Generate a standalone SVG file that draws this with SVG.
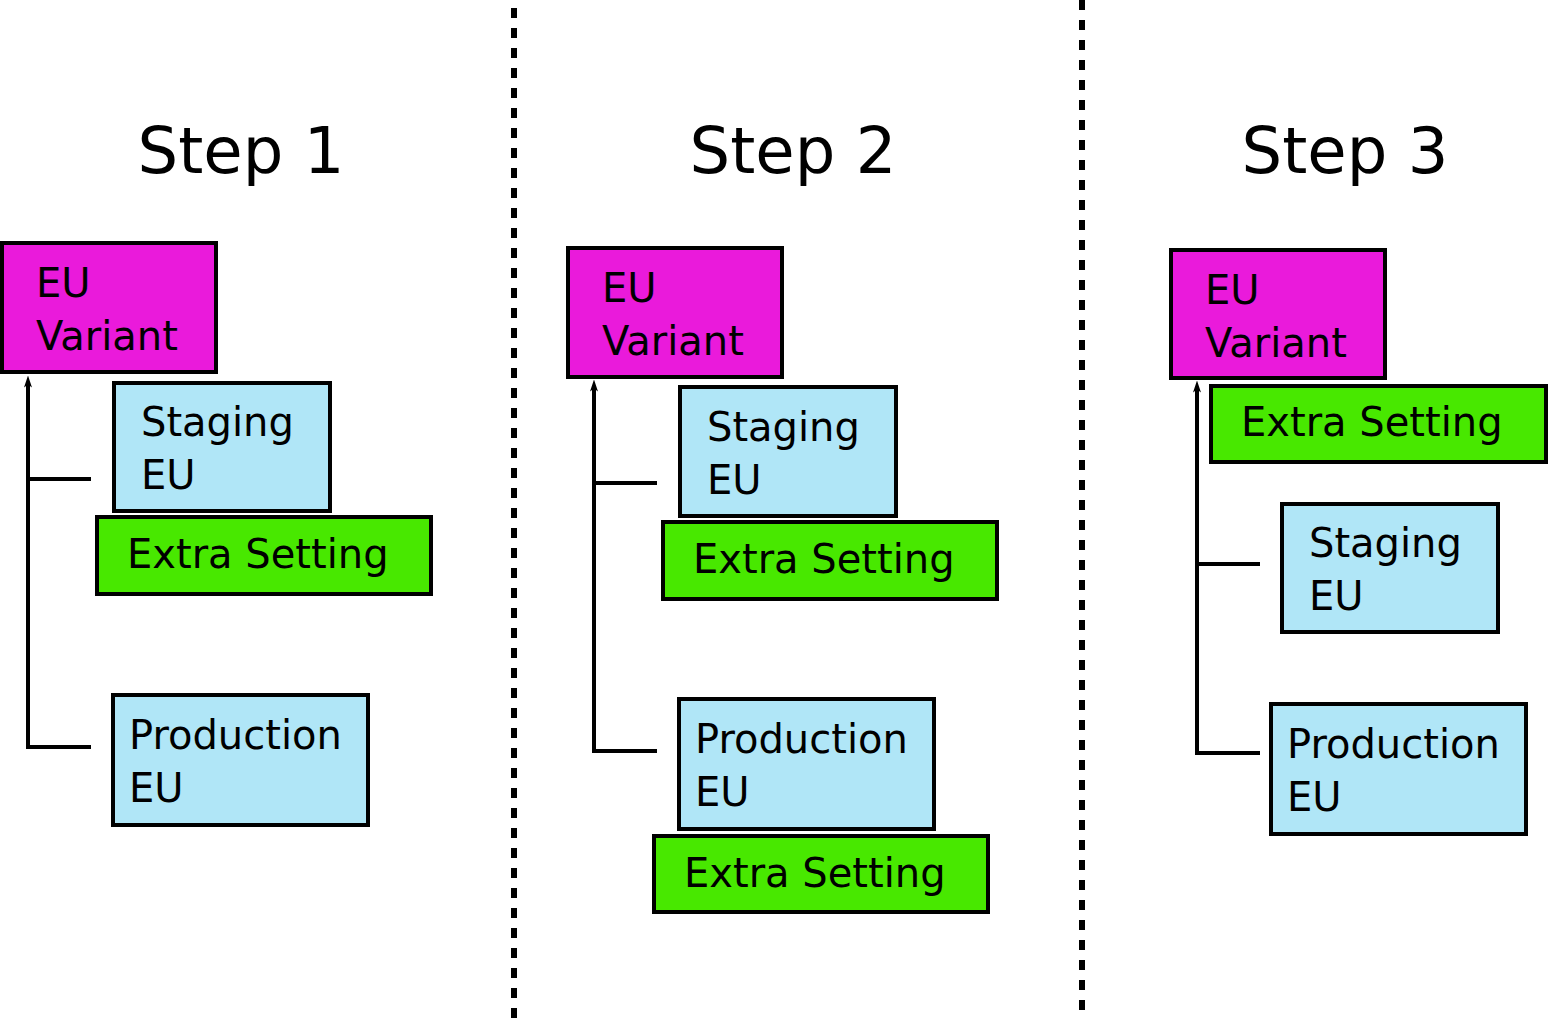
<svg xmlns="http://www.w3.org/2000/svg" width="1548" height="1029" viewBox="0 0 1548 1029">
<defs>
<style>
.b{stroke:#000;stroke-width:4}
.m{fill:#EA1ADB}.s{fill:#B0E6F7}.g{fill:#48E800}
text{font-family:"DejaVu Sans",sans-serif;font-size:40px;fill:#000}
.t{font-size:64px;text-anchor:middle}
.c{fill:none;stroke:#000;stroke-width:4}
.d{stroke:#000;stroke-width:6;stroke-dasharray:10 10}
</style>
<marker id="a" markerWidth="12" markerHeight="16" refX="11" refY="8" orient="auto" markerUnits="userSpaceOnUse" viewBox="0 0 24 16"><path d="M0,0 L24,8 L0,16 L6,8 Z" fill="#000"/></marker>
</defs>
<rect width="1548" height="1029" fill="#fff"/>
<line class="d" x1="514" y1="8" x2="514" y2="1025"/>
<line class="d" x1="1082" y1="0" x2="1082" y2="1018"/>
<text class="t" x="241" y="173">Step 1</text>
<text class="t" x="793" y="173">Step 2</text>
<text class="t" x="1345" y="173">Step 3</text>
<g id="connectors">
<path class="c" d="M91,747 H28 V382" marker-end="url(#a)"/><path class="c" d="M28,479 H91"/>
<path class="c" d="M657,751 H594 V386" marker-end="url(#a)"/><path class="c" d="M594,483 H657"/>
<path class="c" d="M1260,753 H1197 V387" marker-end="url(#a)"/><path class="c" d="M1197,564 H1260"/>
</g>
<g id="s1-variant"><rect class="b m" x="2" y="243" width="214" height="129"/><text x="36" y="297">EU</text><text x="36" y="350">Variant</text></g>
<g id="s1-staging"><rect class="b s" x="114" y="383" width="216" height="128"/><text x="141" y="436">Staging</text><text x="141" y="489">EU</text></g>
<g id="s1-extra"><rect class="b g" x="97" y="517" width="334" height="77"/><text x="127" y="568">Extra Setting</text></g>
<g id="s1-production"><rect class="b s" x="113" y="695" width="255" height="130"/><text x="129" y="749">Production</text><text x="129" y="802">EU</text></g>
<g id="s2-variant"><rect class="b m" x="568" y="248" width="214" height="129"/><text x="602" y="302">EU</text><text x="602" y="355">Variant</text></g>
<g id="s2-staging"><rect class="b s" x="680" y="387" width="216" height="129"/><text x="707" y="441">Staging</text><text x="707" y="494">EU</text></g>
<g id="s2-extra1"><rect class="b g" x="663" y="522" width="334" height="77"/><text x="693" y="573">Extra Setting</text></g>
<g id="s2-production"><rect class="b s" x="679" y="699" width="255" height="130"/><text x="695" y="753">Production</text><text x="695" y="806">EU</text></g>
<g id="s2-extra2"><rect class="b g" x="654" y="836" width="334" height="76"/><text x="684" y="887">Extra Setting</text></g>
<g id="s3-variant"><rect class="b m" x="1171" y="250" width="214" height="128"/><text x="1205" y="304">EU</text><text x="1205" y="357">Variant</text></g>
<g id="s3-extra"><rect class="b g" x="1211" y="386" width="335" height="76"/><text x="1241" y="436">Extra Setting</text></g>
<g id="s3-staging"><rect class="b s" x="1282" y="504" width="216" height="128"/><text x="1309" y="557">Staging</text><text x="1309" y="610">EU</text></g>
<g id="s3-production"><rect class="b s" x="1271" y="704" width="255" height="130"/><text x="1287" y="758">Production</text><text x="1287" y="811">EU</text></g>
</svg>
